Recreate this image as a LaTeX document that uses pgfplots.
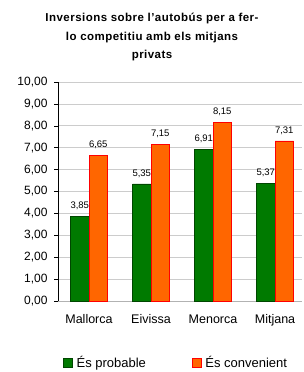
\documentclass[border=0pt]{standalone}
\usepackage{pgfplots}
\pgfplotsset{compat=1.18}
\usepackage{fontspec}
\setmainfont{Liberation Sans}
\definecolor{gbar}{RGB}{0,122,0}
\definecolor{gedge}{RGB}{0,70,0}
\definecolor{obar}{RGB}{255,102,0}
\definecolor{oedge}{RGB}{255,0,0}
\begin{document}
\begin{tikzpicture}
\path[use as bounding box] (0pt,0pt) rectangle (303pt,372pt);
\node[font=\bfseries\fontsize{11.5}{18.5}\selectfont\addfontfeature{LetterSpace=4}, align=center, anchor=north] at (152pt,362pt)
  {Inversions sobre l'autobús per a fer-\\lo competitiu amb els mitjans\\privats};
\begin{axis}[
  at={(58pt,71pt)}, anchor=south west,
  scale only axis, width=244pt, height=219pt,
  xmin=-0.5, xmax=3.435, ymin=0, ymax=10,
  ybar=0pt, bar width=18.5pt,
  xtick={0,1,2,3}, xticklabels={Mallorca,Eivissa,Menorca,Mitjana},
  xtick style={draw=none},
  ytick={0,1,...,10},
  yticklabel style={/pgf/number format/fixed, /pgf/number format/fixed zerofill, /pgf/number format/precision=2, /pgf/number format/use comma, font=\fontsize{12}{13}\selectfont, xshift=-3pt},
  /pgf/number format/assume math mode=true,
  xticklabel style={font=\fontsize{12.5}{14}\selectfont, yshift=-6pt},
  ytick style={black, thin},
  tick align=outside, major tick length=4pt,
  ymajorgrids, grid style={gray!40, line width=0.6pt},
  axis line style={draw=none},
  axis y line*=left, axis x line*=bottom,
  y axis line style={draw=black, thin},
  x axis line style={draw=gray!60},
  clip=false,
  nodes near coords,
  nodes near coords style={font=\fontsize{9.5}{11}\selectfont, /pgf/number format/fixed, /pgf/number format/fixed zerofill, /pgf/number format/precision=2, /pgf/number format/use comma, /pgf/number format/assume math mode=true, yshift=3pt},
  legend style={at={(rel axis cs:0.0205,-0.28)}, anchor=west, draw=none, inner sep=0pt, font=\fontsize{13}{15}\selectfont, legend columns=2, /tikz/every even column/.append style={column sep=44pt}},
  legend image code/.code={\draw[#1] (0pt,-4.5pt) rectangle (9pt,4.5pt); \path (11pt,0pt);},
]
\addplot[fill=gbar, draw=gedge] coordinates {(0,3.85) (1,5.35) (2,6.91) (3,5.37)};
\addplot[fill=obar, draw=oedge] coordinates {(0,6.65) (1,7.15) (2,8.15) (3,7.31)};
\legend{És probable, És convenient}
\end{axis}
\end{tikzpicture}
\end{document}
